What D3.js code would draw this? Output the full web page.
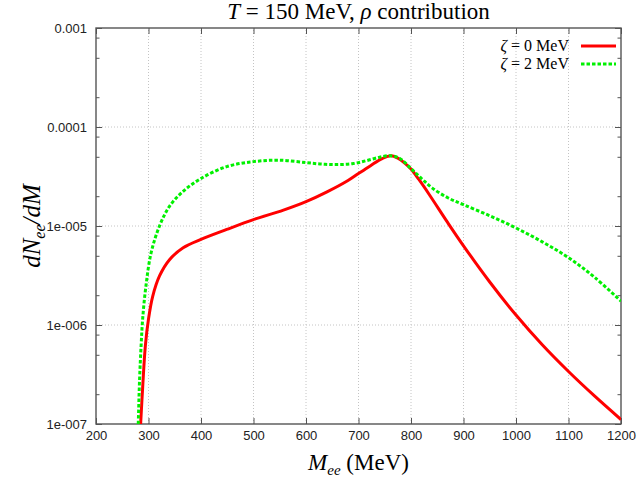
<!DOCTYPE html>
<html>
<head>
<meta charset="utf-8">
<script src="https://cdn.jsdelivr.net/npm/d3@7"></script>
<style>
body { margin: 0; background: #fff; }
</style>
</head>
<body>
<script>
// values
var massZeta0 = [285, 289, 294, 300, 308, 321, 340, 366, 400, 449, 500, 557, 600, 640, 680, 700, 723, 745, 762, 775, 788, 800, 815, 835, 870, 900, 950, 1000, 1050, 1100, 1150, 1200];
var rateZeta0 = [1.0e-7, 2.4e-7, 6.17e-7, 1.15e-6, 1.95e-6, 3.13e-6, 4.57e-6, 6.03e-6, 7.33e-6, 9.23e-6, 1.16e-5, 1.445e-5, 1.76e-5, 2.21e-5, 2.88e-5, 3.39e-5, 4.07e-5, 4.79e-5, 5.13e-5, 4.84e-5, 4.32e-5, 3.76e-5, 2.95e-5, 2.07e-5, 1.08e-5, 6.31e-6, 2.72e-6, 1.26e-6, 6.31e-7, 3.39e-7, 1.91e-7, 1.11e-7];

var massZeta2 = [280.5, 283, 286, 289, 295, 305, 321, 340, 366, 400, 449, 500, 550, 600, 630, 660, 690, 715, 740, 760, 778, 800, 820, 840, 870, 900, 950, 1000, 1050, 1100, 1150, 1200];
var rateZeta2 = [1.0e-7, 2.82e-7, 6.31e-7, 1.175e-6, 2.45e-6, 5.37e-6, 1.0e-5, 1.58e-5, 2.24e-5, 3.02e-5, 3.98e-5, 4.47e-5, 4.62e-5, 4.37e-5, 4.22e-5, 4.17e-5, 4.27e-5, 4.57e-5, 4.95e-5, 5.13e-5, 4.84e-5, 3.80e-5, 3.02e-5, 2.43e-5, 1.93e-5, 1.64e-5, 1.27e-5, 9.55e-6, 6.92e-6, 4.79e-6, 3.02e-6, 1.74e-6];

var xTicks = [200, 300, 400, 500, 600, 700, 800, 900, 1000, 1100, 1200];
var yTicks = [1e-7, 1e-6, 1e-5, 1e-4, 1e-3];
var yTickLabels = ["1e-007", "1e-006", "1e-005", "0.0001", "0.001"];
var yMinorTicks = [2e-7, 5e-7, 8e-7, 2e-6, 5e-6, 8e-6, 2e-5, 5e-5, 8e-5, 2e-4, 5e-4, 8e-4];
var legendZeta = ["0", "2"];

//chart frame
var width = 637,
    height = 482,
    margin = {top: 28, right: 16, bottom: 58, left: 96};

var svg = d3.select("body")
    .append("svg")
    .attr("width", width)
    .attr("height", height)
    .style("font-family", "'Liberation Sans', Arial, sans-serif");

var x = d3.scaleLinear()
    .domain([200, 1200])
    .range([margin.left, width - margin.right]);

var y = d3.scaleLog()
    .domain([1e-7, 1e-3])
    .range([height - margin.bottom, margin.top]);

var x0 = x.range()[0], x1 = x.range()[1],
    y0 = y.range()[0], y1 = y.range()[1];

//grid lines
var grid = svg.append("g")
    .attr("stroke", "#c4c4c4")
    .attr("stroke-width", 1)
    .attr("stroke-dasharray", "1,2");

grid.selectAll(".vgrid")
    .data(xTicks.slice(1, -1))
    .enter()
    .append("line")
    .attr("x1", function(d){ return x(d); })
    .attr("x2", function(d){ return x(d); })
    .attr("y1", y0)
    .attr("y2", y1);

grid.selectAll(".hgrid")
    .data(yTicks.slice(1, -1))
    .enter()
    .append("line")
    .attr("x1", x0)
    .attr("x2", x1)
    .attr("y1", function(d){ return y(d); })
    .attr("y2", function(d){ return y(d); });

//axes, ticks point inward, mirrored on top and right
var tickColor = "#555";

svg.append("g")
    .attr("transform", "translate(0," + y0 + ")")
    .call(d3.axisBottom(x).tickValues(xTicks).tickSize(-6).tickPadding(7).tickFormat(d3.format("d")))
    .call(function(g){
        g.select(".domain").remove();
        g.selectAll("line").attr("stroke", tickColor);
        g.selectAll("text").attr("font-size", 13).attr("fill", "#222");
    });

svg.append("g")
    .attr("transform", "translate(0," + y1 + ")")
    .call(d3.axisTop(x).tickValues(xTicks).tickSize(-6).tickFormat(""))
    .call(function(g){
        g.select(".domain").remove();
        g.selectAll("line").attr("stroke", tickColor);
    });

svg.append("g")
    .attr("transform", "translate(" + x0 + ",0)")
    .call(d3.axisLeft(y).tickValues(yTicks).tickSize(-6).tickPadding(9)
        .tickFormat(function(d, i){ return yTickLabels[i]; }))
    .call(function(g){
        g.select(".domain").remove();
        g.selectAll("line").attr("stroke", tickColor);
        g.selectAll("text").attr("font-size", 13).attr("fill", "#222");
    });

svg.append("g")
    .attr("transform", "translate(" + x0 + ",0)")
    .call(d3.axisLeft(y).tickValues(yMinorTicks).tickSize(-3.5).tickFormat(""))
    .call(function(g){
        g.select(".domain").remove();
        g.selectAll("line").attr("stroke", tickColor);
    });

svg.append("g")
    .attr("transform", "translate(" + x1 + ",0)")
    .call(d3.axisRight(y).tickValues(yTicks).tickSize(-6).tickFormat(""))
    .call(function(g){
        g.select(".domain").remove();
        g.selectAll("line").attr("stroke", tickColor);
    });

svg.append("g")
    .attr("transform", "translate(" + x1 + ",0)")
    .call(d3.axisRight(y).tickValues(yMinorTicks).tickSize(-3.5).tickFormat(""))
    .call(function(g){
        g.select(".domain").remove();
        g.selectAll("line").attr("stroke", tickColor);
    });

//plot frame
svg.append("rect")
    .attr("x", x0)
    .attr("y", y1)
    .attr("width", x1 - x0)
    .attr("height", y0 - y1)
    .attr("fill", "none")
    .attr("stroke", "#555")
    .attr("stroke-width", 1.4);

//curves
svg.append("clipPath")
    .attr("id", "plotclip")
    .append("rect")
    .attr("x", x0)
    .attr("y", y1)
    .attr("width", x1 - x0)
    .attr("height", y0 - y1);

var line = d3.line()
    .x(function(d){ return x(d[0]); })
    .y(function(d){ return y(d[1]); })
    .curve(d3.curveCatmullRom.alpha(0.5));

var series = [
    {mass: massZeta0, rate: rateZeta0, color: "#ff0000", dash: null},
    {mass: massZeta2, rate: rateZeta2, color: "#00f000", dash: "3.5,2"}
];

svg.append("g")
    .attr("clip-path", "url(#plotclip)")
    .selectAll(".curve")
    .data(series)
    .enter()
    .append("path")
    .attr("class", "curve")
    .attr("fill", "none")
    .attr("stroke", function(d){ return d.color; })
    .attr("stroke-width", 3)
    .attr("stroke-dasharray", function(d){ return d.dash; })
    .attr("d", function(d){
        return line(d.mass.map(function(m, i){ return [m, d.rate[i]]; }));
    });

//legend
var serif = "'Liberation Serif', 'DejaVu Serif', serif";

var legend = svg.append("g")
    .style("font-family", serif)
    .attr("font-size", 16);

series.forEach(function(s, i){
    var ly = 46 + i * 18;
    var t = legend.append("text")
        .attr("x", 569)
        .attr("y", ly + 5)
        .attr("text-anchor", "end");
    t.append("tspan").attr("font-style", "italic").text("ζ");
    t.append("tspan").text(" = " + legendZeta[i] + " MeV");
    legend.append("line")
        .attr("x1", 581)
        .attr("x2", 616)
        .attr("y1", ly)
        .attr("y2", ly)
        .attr("stroke", s.color)
        .attr("stroke-width", 3)
        .attr("stroke-dasharray", s.dash);
});

//title and axis titles
var title = svg.append("text")
    .attr("x", (x0 + x1) / 2)
    .attr("y", 19)
    .attr("text-anchor", "middle")
    .attr("font-size", 23)
    .style("font-family", serif);
title.append("tspan").attr("font-style", "italic").text("T");
title.append("tspan").text(" = 150 MeV, ");
title.append("tspan").attr("font-style", "italic").text("ρ");
title.append("tspan").text(" contribution");

var xlab = svg.append("text")
    .attr("x", (x0 + x1) / 2)
    .attr("y", 470)
    .attr("text-anchor", "middle")
    .attr("font-size", 23)
    .style("font-family", serif);
xlab.append("tspan").attr("font-style", "italic").text("M");
xlab.append("tspan").attr("font-style", "italic").attr("font-size", 15).attr("dy", 5).text("ee");
xlab.append("tspan").attr("dy", -5).text(" (MeV)");

var ylab = svg.append("text")
    .attr("transform", "translate(40," + ((y0 + y1) / 2) + ") rotate(-90)")
    .attr("text-anchor", "middle")
    .attr("font-size", 25)
    .style("font-family", serif)
    .attr("font-style", "italic");
ylab.append("tspan").text("dN");
ylab.append("tspan").attr("font-size", 16).attr("dy", 5).text("ee");
ylab.append("tspan").attr("dy", -5).text("/dM");
</script>
</body>
</html>
